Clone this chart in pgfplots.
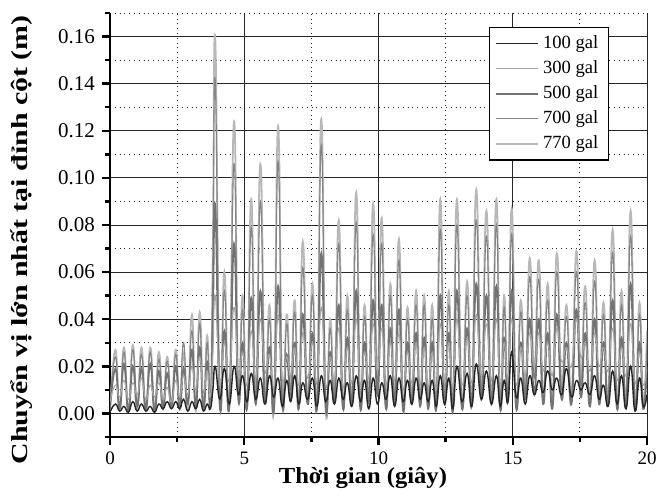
\documentclass[border=0pt]{standalone}
\usepackage{fontspec}
\setmainfont{Liberation Serif}
\usepackage{graphicx}
\usepackage{pgfplots}
\pgfplotsset{compat=1.18}
\usepackage{pgfplotstable}

% columns: t = time (s); a..e = 100, 300, 500, 700, 770 gal (m)
\pgfplotstableread{
t a b c d e
0 0.0005 0.005 0.002 0.003 0.001
0.20 0.004 0.012 0.019 0.024 0.027
0.36 0.001 0.007 0.002 0.003 0.002
0.52 0.003 0.014 0.021 0.026 0.028
0.685 0.0005 0.006 0.001 0.002 0.001
0.85 0.005 0.013 0.020 0.027 0.029
1.01 0.001 0.008 0.003 0.004 0.002
1.17 0.004 0.015 0.019 0.025 0.028
1.335 0.001 0.006 0.002 0.003 0.001
1.50 0.003 0.012 0.021 0.026 0.028
1.66 0.0005 0.007 0.001 0.002 0.002
1.82 0.004 0.013 0.018 0.023 0.026
1.975 0.002 0.006 0.002 0.004 0.003
2.13 0.005 0.011 0.017 0.022 0.024
2.29 0.002 0.005 0.003 0.005 0.004
2.45 0.005 0.014 0.020 0.025 0.027
2.595 0.002 0.007 0.002 0.006 0.003
2.74 0.006 0.016 0.019 0.030 0.026
2.895 0.001 0.008 0.004 0.004 0.002
3.05 0.005 0.020 0.027 0.035 0.042
3.195 0.002 0.010 0.003 0.003 0.001
3.34 0.006 0.024 0.028 0.038 0.043
3.48 0.001 0.009 0.002 0.002 0.003
3.62 0.004 0.018 0.022 0.030 0.033
3.74 0.002 0.007 0.003 0.004 0.004
3.83 0.010 0.025 0.040 0.060 0.070
3.92 0.020 0.050 0.088 0.141 0.159
4.09 0.006 0.012 0.003 0.006 0.008
4.26 0.019 0.030 0.035 0.052 0.060
4.44 0.004 0.014 0.002 0.003 0.004
4.62 0.020 0.045 0.072 0.106 0.124
4.78 0.008 0.016 0.006 0.010 0.012
4.94 0.016 0.026 0.030 0.044 0.050
5.10 0.005 0.012 0.002 0.004 0.003
5.26 0.017 0.035 0.049 0.079 0.091
5.43 0.006 0.015 0.004 0.005 0.006
5.60 0.015 0.040 0.052 0.090 0.106
5.77 0.004 0.018 0.005 0.008 0.010
5.94 0.016 0.025 0.028 0.040 0.046
6.10 0.007 0.011 0.001 0.003 0.002
6.26 0.015 0.042 0.054 0.107 0.122
6.42 0.003 0.014 0.003 0.004 0.005
6.58 0.014 0.024 0.025 0.038 0.042
6.73 0.005 0.016 0.006 0.010 0.012
6.88 0.016 0.028 0.030 0.043 0.048
7.03 0.004 0.012 0.002 0.002 0.003
7.18 0.013 0.034 0.042 0.062 0.073
7.36 0.006 0.015 0.004 0.005 0.006
7.54 0.015 0.030 0.034 0.050 0.055
7.705 0.003 0.013 0.002 0.003 0.004
7.87 0.016 0.045 0.068 0.114 0.125
8.035 0.005 0.012 0.002 0.003 0.002
8.20 0.014 0.024 0.026 0.036 0.040
8.36 0.004 0.014 0.005 0.007 0.008
8.52 0.015 0.036 0.046 0.072 0.082
8.68 0.006 0.011 0.002 0.002 0.003
8.84 0.013 0.028 0.032 0.044 0.050
9.005 0.003 0.013 0.004 0.005 0.006
9.17 0.016 0.040 0.052 0.081 0.094
9.325 0.005 0.012 0.002 0.003 0.004
9.48 0.014 0.026 0.030 0.041 0.046
9.64 0.002 0.015 0.005 0.008 0.009
9.80 0.015 0.038 0.048 0.076 0.089
9.96 0.004 0.018 0.008 0.012 0.015
10.12 0.013 0.036 0.046 0.072 0.083
10.28 0.006 0.012 0.002 0.002 0.003
10.44 0.016 0.030 0.036 0.050 0.055
10.60 0.003 0.014 0.004 0.006 0.007
10.76 0.015 0.034 0.044 0.065 0.074
10.92 0.005 0.010 0.001 0.003 0.002
11.08 0.014 0.026 0.030 0.040 0.045
11.24 0.004 0.013 0.004 0.005 0.006
11.40 0.015 0.030 0.034 0.046 0.052
11.55 0.006 0.012 0.003 0.004 0.005
11.70 0.013 0.028 0.032 0.046 0.050
11.85 0.005 0.011 0.002 0.003 0.004
12.00 0.014 0.026 0.030 0.040 0.046
12.15 0.003 0.010 0.002 0.002 0.003
12.30 0.016 0.038 0.050 0.078 0.091
12.46 0.004 0.013 0.004 0.005 0.006
12.62 0.015 0.030 0.034 0.046 0.052
12.77 0.002 0.011 0.001 0.003 0.002
12.92 0.020 0.040 0.052 0.080 0.091
13.11 0.005 0.012 0.002 0.003 0.004
13.30 0.017 0.032 0.036 0.050 0.056
13.47 0.003 0.013 0.003 0.004 0.005
13.64 0.021 0.042 0.055 0.082 0.095
13.83 0.006 0.016 0.006 0.010 0.012
14.02 0.018 0.038 0.050 0.075 0.086
14.205 0.004 0.014 0.004 0.005 0.006
14.39 0.016 0.040 0.054 0.080 0.091
14.535 0.003 0.012 0.002 0.002 0.003
14.68 0.014 0.030 0.032 0.045 0.050
14.82 0.005 0.015 0.005 0.007 0.008
14.96 0.026 0.040 0.052 0.076 0.087
15.13 0.007 0.012 0.002 0.003 0.004
15.30 0.015 0.028 0.030 0.043 0.048
15.465 0.004 0.016 0.006 0.009 0.010
15.63 0.016 0.034 0.040 0.058 0.066
15.80 0.008 0.020 0.008 0.015 0.018
15.97 0.014 0.034 0.040 0.057 0.065
16.135 0.009 0.018 0.004 0.005 0.006
16.30 0.018 0.030 0.034 0.048 0.055
16.47 0.010 0.016 0.002 0.003 0.004
16.64 0.015 0.036 0.042 0.060 0.068
16.82 0.008 0.022 0.006 0.010 0.012
17.00 0.019 0.028 0.030 0.041 0.046
17.185 0.007 0.020 0.004 0.007 0.008
17.37 0.014 0.040 0.044 0.060 0.069
17.535 0.010 0.024 0.007 0.012 0.015
17.70 0.013 0.030 0.034 0.047 0.054
17.875 0.008 0.018 0.003 0.004 0.005
18.05 0.016 0.034 0.040 0.056 0.065
18.215 0.006 0.020 0.004 0.006 0.007
18.38 0.012 0.028 0.030 0.042 0.047
18.55 0.003 0.018 0.004 0.005 0.006
18.72 0.018 0.036 0.048 0.068 0.078
18.885 0.004 0.014 0.002 0.002 0.003
19.05 0.016 0.028 0.032 0.046 0.052
19.22 0.002 0.016 0.003 0.004 0.005
19.39 0.020 0.038 0.055 0.075 0.086
19.555 0.001 0.013 0.002 0.003 0.004
19.72 0.015 0.026 0.030 0.042 0.047
19.86 0.003 0.012 0.002 0.002 0.003
20.0 0.008 0.020 0.020 0.030 0.035
}\disp

\begin{document}
\begin{tikzpicture}
\begin{axis}[
  scale only axis,
  width=268.5pt, height=212pt,
  xmin=0, xmax=20, ymin=-0.01, ymax=0.17,
  axis x line*=bottom, axis y line*=left,
  axis line style={line width=1.4pt},
  every outer x axis line/.append style={-},
  every outer y axis line/.append style={-},
  every inner x axis line/.append style={-},
  every inner y axis line/.append style={-},
  xtick={0,5,10,15,20},
  minor xtick={2.5,7.5,12.5,17.5},
  ytick={0,0.02,0.04,0.06,0.08,0.10,0.12,0.14,0.16},
  minor ytick={-0.01,0.01,0.03,0.05,0.07,0.09,0.11,0.13,0.15,0.17},
  tick align=outside,
  major tick length=4pt, minor tick length=2.5pt,
  tick style={black, line width=1.2pt},
  grid=both,
  major grid style={black!85, line width=0.5pt},
  minor grid style={black!85, dotted, line width=0.5pt},
  /pgf/number format/assume math mode=true,
  xticklabel style={font=\fontsize{9.5}{11}\selectfont},
  yticklabel style={font=\fontsize{10.5}{12}\selectfont,
    /pgf/number format/.cd, fixed, fixed zerofill, precision=2},
  scaled y ticks=false,
  xlabel={\scalebox{1.07}[1]{\bfseries Thời gian (giây)}},
  ylabel={\scalebox{1.3}[1]{\bfseries Chuyển vị lớn nhất tại đỉnh cột (m)}},
  label style={font=\fontsize{11.5}{13}\selectfont},
  xlabel style={at={(axis description cs:0.471,-0.097)}, anchor=center},
  ylabel style={at={(axis description cs:-0.164,0.465)}, anchor=center},
  legend style={at={(0.929,0.967)}, anchor=north east, draw=black,
    line width=0.6pt, fill=white, font=\fontsize{9.3}{11}\selectfont,
    row sep=0.6pt, inner xsep=3pt, inner ysep=2pt},
  legend cell align=left,
  legend image code/.code={\draw[#1] (0pt,0pt) -- (21pt,0pt);},
  reverse legend,
  every axis plot/.append style={smooth, tension=0.85},
]
\addplot[black!28, line width=0.9pt] table[x=t, y=e] {\disp};
\addlegendentry{770 gal}
\addplot[black!48, line width=0.55pt] table[x=t, y=d] {\disp};
\addlegendentry{700 gal}
\addplot[black!55, line width=0.9pt] table[x=t, y=c] {\disp};
\addlegendentry{500 gal}
\addplot[black!35, line width=0.55pt] table[x=t, y=b] {\disp};
\addlegendentry{300 gal}
\addplot[black!85, line width=0.7pt] table[x=t, y=a] {\disp};
\addlegendentry{100 gal}
\end{axis}
\pgfresetboundingbox
\path[use as bounding box]
  ([xshift=-55pt, yshift=-31pt]current axis.south west) rectangle
  ([xshift=4.5pt, yshift=6.5pt]current axis.north east);
\end{tikzpicture}
\end{document}
